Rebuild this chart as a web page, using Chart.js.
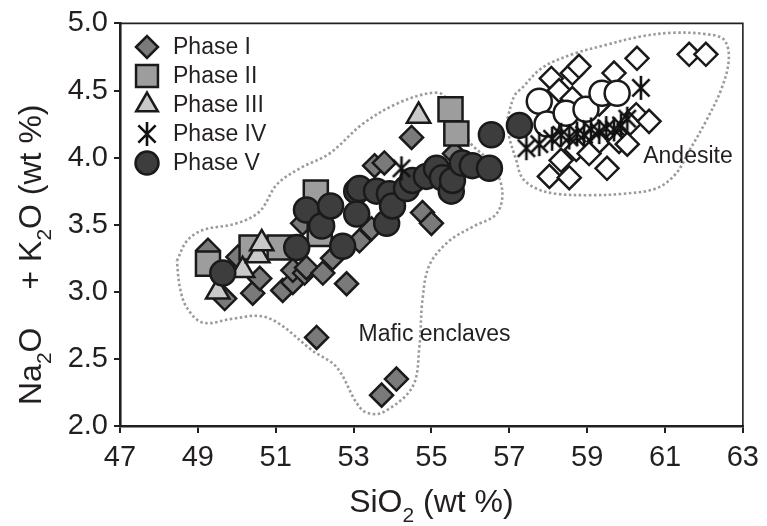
<!DOCTYPE html>
<html>
<head>
<meta charset="utf-8">
<script src="https://cdn.jsdelivr.net/npm/chart.js@4.4.1/dist/chart.umd.min.js"></script>
<style>
  html, body { margin: 0; padding: 0; background: #fff; }
  #wrap { width: 767px; height: 526px; }
</style>
</head>
<body>
<div id="wrap"><canvas id="graphCanvas" width="767" height="526"></canvas></div>
<script>
// tick labels
const xTicks = [47, 49, 51, 53, 55, 57, 59, 61, 63];
const yTicks = [2.0, 2.5, 3.0, 3.5, 4.0, 4.5, 5.0];

// legend names
const phaseNames = ['Phase I', 'Phase II', 'Phase III', 'Phase IV', 'Phase V'];

// [SiO2, Na2O+K2O]
const phase1 = [[49.26,3.31],[49.69,2.95],[50.03,3.26],[50.41,2.99],[50.59,3.10],[51.18,3.01],
  [51.44,3.07],[51.44,3.16],[51.74,3.14],[51.79,3.18],[52.21,3.14],[52.46,3.25],[52.82,3.06],
  [51.69,3.51],[53.15,3.38],[53.46,3.47],[52.05,2.66],[53.72,2.23],[54.10,2.35],[54.49,4.15],
  [55.59,4.03],[53.54,3.94],[53.79,3.96],[54.77,3.59],[55.00,3.51]];
const phase2 = [[49.26,3.21],[50.38,3.33],[51.10,3.33],[52.03,3.74],[52.13,3.43],[55.49,4.36],[55.64,4.18]];
const phase3 = [[49.51,3.00],[50.15,3.16],[50.54,3.27],[50.64,3.36],[54.67,4.31]];
const phase4 = [[54.23,3.92],[57.44,4.07],[57.77,4.10],[58.10,4.14],[58.33,4.17],[58.54,4.15],
  [58.74,4.18],[58.92,4.17],[59.10,4.21],[59.31,4.19],[59.49,4.22],[59.69,4.21],[59.87,4.24],
  [60.03,4.29],[60.38,4.52]];
const phase5 = [[49.64,3.14],[51.54,3.33],[51.79,3.61],[52.18,3.49],[52.41,3.64],[52.72,3.34],
  [53.08,3.75],[53.08,3.58],[53.15,3.77],[53.59,3.75],[53.85,3.51],[53.92,3.73],[54.00,3.64],
  [54.36,3.77],[54.51,3.83],[54.87,3.86],[55.13,3.92],[55.28,3.85],[55.51,3.75],[55.54,3.83],
  [55.79,3.96],[56.05,3.94],[56.49,3.92],[56.54,4.17],[57.26,4.24]];
// host andesite (open symbols)
const andesiteDiamonds = [[58.08,4.59],[58.62,4.63],[58.79,4.68],[59.69,4.63],[60.28,4.74],
  [61.62,4.77],[62.05,4.77],[58.28,4.50],[58.62,4.44],[59.31,4.40],[60.26,4.32],[60.08,4.25],
  [60.59,4.27],[59.31,4.12],[59.82,4.12],[60.03,4.10],[58.72,4.06],[59.05,4.03],[58.33,3.98],
  [59.51,3.92],[58.03,3.86],[58.54,3.85]];
const andesiteCircles = [[57.77,4.42],[57.97,4.25],[58.46,4.33],[58.97,4.36],[59.38,4.48],[59.77,4.48]];

// field outlines
const maficField = [[48.46,3.23],[48.72,3.38],[49.13,3.46],[50.00,3.51],[50.59,3.60],[51.03,3.80],
  [51.62,3.92],[52.38,4.03],[53.23,4.25],[54.10,4.40],[54.95,4.48],[55.33,4.46],[55.97,4.12],
  [56.56,3.95],[56.82,3.75],[56.67,3.58],[56.10,3.49],[55.46,3.38],[54.95,3.20],[54.77,2.94],
  [54.69,2.59],[54.51,2.29],[53.74,2.10],[53.33,2.10],[53.08,2.17],[52.56,2.44],[51.95,2.56],
  [51.10,2.76],[50.59,2.82],[49.90,2.80],[49.13,2.77],[48.72,2.88],[48.54,3.03],[48.46,3.23]];
const andesiteField = [[56.95,4.29],[57.13,4.46],[57.33,4.52],[57.85,4.67],[58.62,4.77],[59.49,4.84],
  [60.33,4.90],[61.18,4.93],[62.05,4.92],[62.51,4.88],[62.64,4.74],[62.46,4.52],[62.05,4.27],
  [61.62,4.05],[61.28,3.88],[60.77,3.77],[59.90,3.73],[59.05,3.72],[58.21,3.73],[57.69,3.77],
  [57.33,3.85],[57.18,3.98],[57.00,4.15],[56.95,4.29]];

const fieldLabels = [
  { text: 'Mafic enclaves', x: 55.08, y: 2.68 },
  { text: 'Andesite', x: 61.59, y: 4.01 }
];

const ink = '#231f20';
const fontFam = '"Liberation Sans", Arial, sans-serif';

function pts(arr) {
  return arr.map(p => ({ x: p[0], y: p[1] }));
}

// six-armed asterisk marker
function makeStar(size, lw) {
  let c = document.createElement('canvas');
  c.width = size; c.height = size;
  let g = c.getContext('2d');
  let m = size / 2, r = size / 2 - 1;
  g.strokeStyle = '#111';
  g.lineWidth = lw;
  g.beginPath();
  g.moveTo(m, m - r); g.lineTo(m, m + r);
  let a = r * 0.72;
  g.moveTo(m - a, m - a); g.lineTo(m + a, m + a);
  g.moveTo(m + a, m - a); g.lineTo(m - a, m + a);
  g.stroke();
  return c;
}
const starImg = makeStar(26, 2.6);

function markerSet(label, data, style, radius, fill, order) {
  return {
    label: label,
    data: pts(data),
    pointStyle: style,
    pointRadius: radius,
    pointHoverRadius: radius,
    pointBackgroundColor: fill,
    pointBorderColor: '#1a1a1a',
    pointBorderWidth: 2.5,
    showLine: false,
    order: order
  };
}

function fieldSet(data) {
  return {
    label: '',
    data: pts(data),
    showLine: true,
    borderColor: '#9b9b9b',
    borderWidth: 2.6,
    borderDash: [2.5, 2.5],
    tension: 0.35,
    pointRadius: 0,
    fill: false,
    order: 20
  };
}

const datasets = [
  fieldSet(maficField),
  fieldSet(andesiteField),
  markerSet('andesite I', andesiteDiamonds, 'rectRot', 11.5, '#ffffff', 8),
  markerSet('andesite V', andesiteCircles, 'circle', 12.5, '#ffffff', 7),
  markerSet(phaseNames[0], phase1, 'rectRot', 11.5, '#7a7a7a', 6),
  markerSet(phaseNames[1], phase2, 'rect', 17, '#9d9d9d', 5),
  markerSet(phaseNames[2], phase3, 'triangle', 13.5, '#c9c9c9', 4),
  markerSet(phaseNames[4], phase5, 'circle', 12.5, '#3d3d3d', 3),
  markerSet(phaseNames[3], phase4, starImg, 13, '#ffffff', 1)
];

// legend entries reuse the marker styles
const legendRows = [
  { name: phaseNames[0], style: 'rectRot', r: 11, fill: '#7a7a7a' },
  { name: phaseNames[1], style: 'rect', r: 15.5, fill: '#9d9d9d' },
  { name: phaseNames[2], style: 'triangle', r: 12.5, fill: '#c9c9c9' },
  { name: phaseNames[3], style: starImg, r: 12, fill: '#fff' },
  { name: phaseNames[4], style: 'circle', r: 11.5, fill: '#3d3d3d' }
];

const decorPlugin = {
  id: 'decor',
  afterDraw(chart) {
    const ctx = chart.ctx;
    const a = chart.chartArea;
    const xs = chart.scales.x, ys = chart.scales.y;
    ctx.save();

    // thin frame on top and right
    ctx.strokeStyle = ink;
    ctx.lineWidth = 1.6;
    ctx.beginPath();
    ctx.moveTo(a.left, a.top);
    ctx.lineTo(a.right, a.top);
    ctx.lineTo(a.right, a.bottom);
    ctx.stroke();

    // legend
    ctx.font = '23px ' + fontFam;
    ctx.textBaseline = 'middle';
    ctx.textAlign = 'left';
    legendRows.forEach((row, i) => {
      let y = 47 + i * 29;
      ctx.fillStyle = row.fill;
      ctx.strokeStyle = '#1a1a1a';
      ctx.lineWidth = 2.5;
      Chart.helpers.drawPoint(ctx, { pointStyle: row.style, radius: row.r, rotation: 0, borderWidth: 2.5 }, 147, y);
      ctx.fillStyle = ink;
      ctx.fillText(row.name, 173, y + 1);
    });

    // field names
    ctx.font = '23px ' + fontFam;
    ctx.textAlign = 'center';
    fieldLabels.forEach(l => {
      ctx.fillText(l.text, xs.getPixelForValue(l.x), ys.getPixelForValue(l.y));
    });

    // axis titles with subscripts
    const big = 32, small = 21;
    function runs(parts, x0, y0) {
      let x = x0;
      parts.forEach(p => {
        if (p.gap) { x += p.gap; return; }
        ctx.font = (p.sub ? small : big) + 'px ' + fontFam;
        ctx.fillText(p.t, x, y0 + (p.sub ? 10 : 0));
        x += ctx.measureText(p.t).width;
      });
      return x - x0;
    }
    function width(parts) {
      let w = 0;
      parts.forEach(p => {
        if (p.gap) { w += p.gap; return; }
        ctx.font = (p.sub ? small : big) + 'px ' + fontFam;
        w += ctx.measureText(p.t).width;
      });
      return w;
    }
    ctx.fillStyle = ink;
    ctx.textAlign = 'left';
    ctx.textBaseline = 'alphabetic';
    const xTitle = [{ t: 'SiO' }, { t: '2', sub: true }, { t: ' (wt %)' }];
    runs(xTitle, (a.left + a.right) / 2 - width(xTitle) / 2, 512);

    const yTitle = [{ t: 'Na' }, { t: '2', sub: true }, { t: 'O' }, { gap: 38 }, { t: '+ K' }, { t: '2', sub: true }, { t: 'O (wt %)' }];
    ctx.translate(41, 405);
    ctx.rotate(-Math.PI / 2);
    runs(yTitle, 0, 0);
    ctx.restore();
  }
};

let ctx = document.getElementById('graphCanvas').getContext('2d');
let chart = new Chart(ctx, {
  type: 'scatter',
  data: { datasets: datasets },
  options: {
    responsive: false,
    animation: false,
    devicePixelRatio: 1,
    layout: { padding: { left: 0, right: 23, top: 22, bottom: 0 } },
    plugins: { legend: { display: false }, tooltip: { enabled: false } },
    scales: {
      x: {
        type: 'linear',
        min: 47,
        max: 63,
        afterBuildTicks: s => { s.ticks = xTicks.map(v => ({ value: v })); },
        afterFit: s => { s.height = 100; },
        grid: { drawOnChartArea: false, tickLength: 7, color: ink, lineWidth: 2 },
        border: { color: ink, width: 2.6 },
        ticks: { color: ink, padding: 8, font: { family: fontFam, size: 29 }, maxRotation: 0, callback: v => String(v) }
      },
      y: {
        type: 'linear',
        min: 2,
        max: 5,
        afterBuildTicks: s => { s.ticks = yTicks.map(v => ({ value: v })); },
        afterFit: s => { s.width = 120; },
        grid: { drawOnChartArea: false, tickLength: 6, color: ink, lineWidth: 2 },
        border: { color: ink, width: 2.6 },
        ticks: { color: ink, padding: 6, font: { family: fontFam, size: 29 }, callback: v => v.toFixed(1) }
      }
    }
  },
  plugins: [decorPlugin]
});
</script>
</body>
</html>
